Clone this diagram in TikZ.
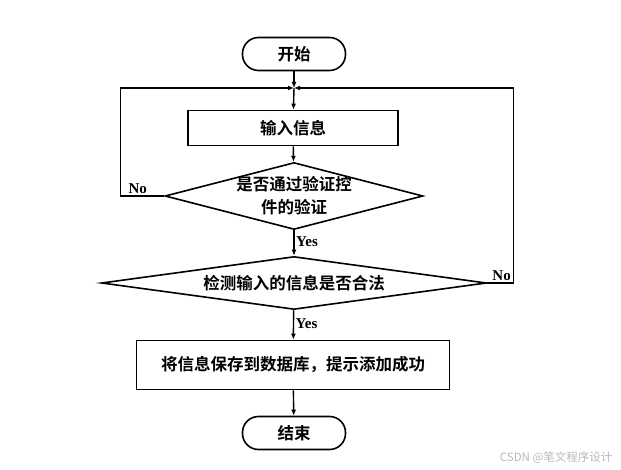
\documentclass[tikz,border=0pt]{standalone}
\usepackage{fontspec}
\setmainfont{Liberation Serif}
\newfontfamily\cjk{Noto Sans CJK SC}[BoldFont={Noto Sans CJK SC Bold}]
\usepackage{tikz}
\usetikzlibrary{arrows.meta,positioning,shapes.geometric}

\begin{document}
\begin{tikzpicture}[x=1pt,y=-1pt,
  term/.style={draw, line width=1.6pt, rounded corners=16pt,
               minimum width=103pt, minimum height=33pt, align=center,
               font=\cjk\bfseries\fontsize{16.5}{20}\selectfont},
  box/.style={draw, line width=1.6pt, inner sep=0pt, align=center,
              font=\cjk\bfseries\fontsize{16.5}{20}\selectfont},
  dec/.style={draw, diamond, line width=1.6pt, inner sep=-3pt, align=center,
              font=\cjk\bfseries\fontsize{16.5}{23}\selectfont},
  lbl/.style={font=\bfseries\fontsize{15}{16}\selectfont, inner sep=1.5pt},
  arr/.style={-{Latex[length=6pt,width=5pt]}, line width=1.4pt}
]
\useasboundingbox (0,0) rectangle (621,470);

\node[term] (start) at (294, 54)  {开始};
\coordinate (join)  at (294, 88);
\node[box, minimum width=210pt, minimum height=35pt] (input) at (293,128) {输入信息};
\node[dec, aspect=3.85, minimum width=258pt, minimum height=67pt] (chk1) at (294,196) {是否通过验证控\\件的验证};
\node[dec, aspect=7.26, minimum width=385pt, minimum height=53pt] (chk2) at (294,283) {检测输入的信息是否合法};
\node[box, minimum width=313pt, minimum height=49pt] (save) at (293,365) {将信息保存到数据库，提示添加成功};
\node[term] (end)   at (294,433)  {结束};

\draw[arr] (start) -- (join);
\draw[arr] (join) -- (input);
\draw[arr] (input) -- (chk1);
\draw[arr] (chk1) -- node[lbl, right, pos=0.45]{Yes} (chk2);
\draw[arr] (chk2) -- node[lbl, right, pos=0.45]{Yes} (save);
\draw[arr] (save) -- (end);
\draw[arr] (chk1.west) -- node[lbl, above, pos=0.6]{No} ++(-44,0) |- (join);
\draw[arr] (chk2.east) -- node[lbl, above, pos=0.55]{No} ++(26,0) |- (join);

\node[font=\cjk\fontsize{11.5}{13}\selectfont, text=gray!55, anchor=east] (mark) at (616,458) {CSDN @笔文程序设计};
\end{tikzpicture}
\end{document}
